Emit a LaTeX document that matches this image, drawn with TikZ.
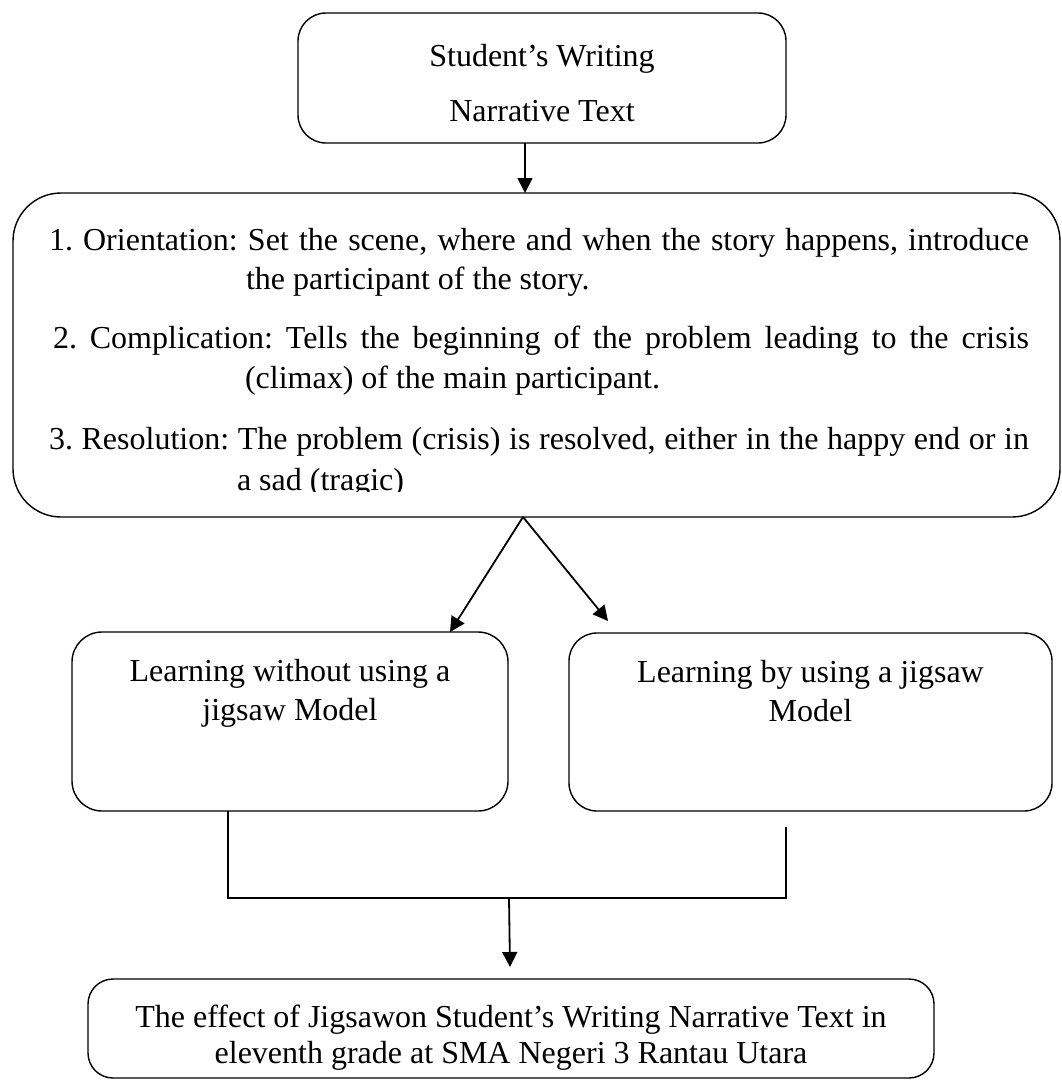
\documentclass[tikz,border=0pt]{standalone}
\usepackage{fontspec}
\setmainfont{Liberation Serif}
\usetikzlibrary{arrows.meta}
\begin{document}
\begin{tikzpicture}[x=1pt,y=-1pt,
  box/.style={draw, line width=1.4pt, rounded corners=#1, inner sep=0pt, outer sep=0pt},
  box/.default=28pt,
  txt/.style={inner sep=0pt, outer sep=0pt, font=\fontsize{32}{38}\selectfont\frenchspacing},
  arr/.style={line width=1.8pt, -{Triangle[length=15pt,width=15pt]}},
  conn/.style={line width=1.1pt}]
\useasboundingbox (0,0) rectangle (1061,1084);
% boxes
\node[box=28pt, minimum width=488pt, minimum height=130pt] (top) at (542,78) {};
\node[box=48pt, minimum width=1047pt, minimum height=324pt] (big) at (536.5,355) {};
\node[box=30pt, minimum width=436pt, minimum height=179pt] (lb) at (290,721.5) {};
\node[box=28pt, minimum width=483pt, minimum height=178pt] (rb) at (810.5,722) {};
\node[box=25pt, minimum width=846pt, minimum height=99pt] (bot) at (511,1028.5) {};
% top text
\node[txt, anchor=base] (t1) at (542,66) {Student’s Writing};
\node[txt, anchor=base] (t2) at (542,121) {Narrative Text};
% big box text
\node[txt, anchor=base west] (b1) at (49,250) {\makebox[980pt][s]{1. Orientation: Set the scene, where and when the story happens, introduce}};
\node[txt, anchor=base west] (b2) at (246,289) {the participant of the story.};
\node[txt, anchor=base west] (b3) at (53,348) {\makebox[976pt][s]{2. Complication: Tells the beginning of the problem leading to the crisis}};
\node[txt, anchor=base west] (b4) at (245,388) {(climax) of the main participant.};
\node[txt, anchor=base west] (b5) at (49,449) {\makebox[980pt][s]{3. Resolution: The problem (crisis) is resolved, either in the happy end or in}};
\begin{scope}
\clip (13,193) rectangle (1060,491);
\node[txt, anchor=base west] (b6) at (237,490) {a sad (tragic)};
\end{scope}
% middle texts
\node[txt, anchor=base] (l1) at (290,681) {Learning without using a};
\node[txt, anchor=base] (l2) at (290,720) {jigsaw Model};
\node[txt, anchor=base] (r1) at (810.5,682) {Learning by using a jigsaw};
\node[txt, anchor=base] (r2) at (810.5,721) {Model};
% bottom text
\node[txt, anchor=base] (e1) at (511,1027) {The effect of Jigsawon Student’s Writing Narrative Text in};
\node[txt, anchor=base] (e2) at (511,1063) {eleventh grade at SMA Negeri 3 Rantau Utara};
% connector coordinates
\coordinate (xa) at (525,0);
\coordinate (xb) at (523,0);
\coordinate (xl) at (450,0);
\coordinate (rtip) at (608,621);
\coordinate (j1) at (228,898);
\coordinate (j2) at (786,898);
\coordinate (rs) at (786,827);
\coordinate (m1) at (509,898);
\coordinate (m2) at (510,967);
% connectors
\draw[arr] (xa |- top.south) -- (xa |- big.north);
\draw[arr] (xb |- big.south) -- (xl |- lb.north);
\draw[arr] (xb |- big.south) -- (rtip);
\draw[conn] (j1 |- lb.south) -- (j1) -- (j2) -- (rs);
\draw[arr] (m1) -- (m2);
\end{tikzpicture}
\end{document}
